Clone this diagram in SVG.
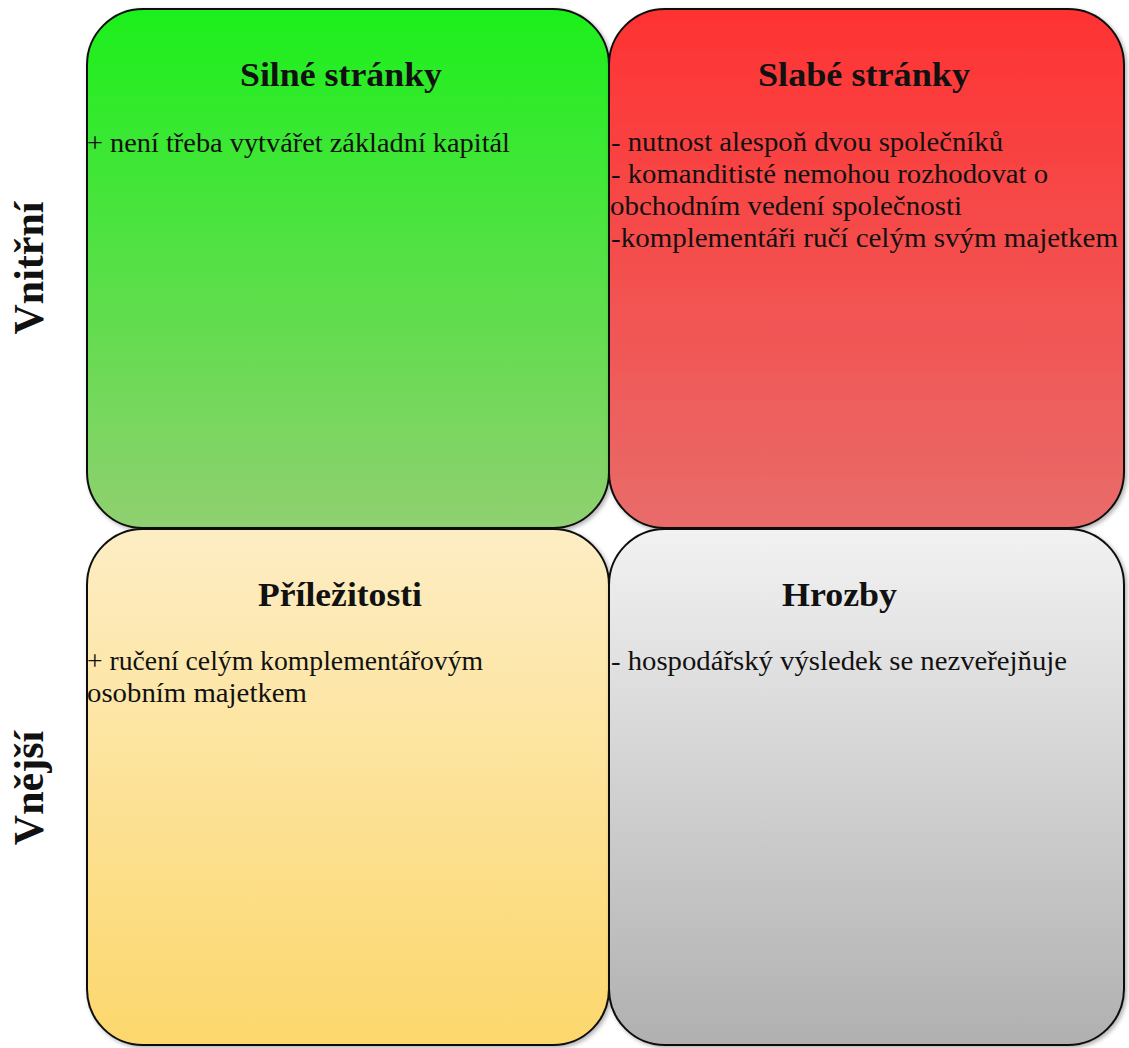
<svg xmlns="http://www.w3.org/2000/svg" width="1129" height="1048" viewBox="0 0 1129 1048">
<defs>
<linearGradient id="gG" x1="0" y1="0" x2="0" y2="1"><stop offset="0" stop-color="#1cf01c"/><stop offset="1" stop-color="#90d070"/></linearGradient>
<linearGradient id="gR" x1="0" y1="0" x2="0" y2="1"><stop offset="0" stop-color="#ff3232"/><stop offset="1" stop-color="#e86c6a"/></linearGradient>
<linearGradient id="gY" x1="0" y1="0" x2="0" y2="1"><stop offset="0" stop-color="#fdedc4"/><stop offset="1" stop-color="#fcd76c"/></linearGradient>
<linearGradient id="gS" x1="0" y1="0" x2="0" y2="1"><stop offset="0" stop-color="#f2f2f2"/><stop offset="1" stop-color="#b0b0b0"/></linearGradient>
<filter id="sh" x="-5%" y="-5%" width="110%" height="110%"><feDropShadow dx="2" dy="2" stdDeviation="2" flood-color="#000" flood-opacity="0.3"/></filter>
</defs>
<style>
.box{stroke:#111;stroke-width:2;filter:url(#sh)}
.t{font-family:"Liberation Serif",serif;font-weight:bold;font-size:33px;fill:#111}
.b{font-family:"Liberation Serif",serif;font-size:27px;fill:#111}
.v{font-family:"Liberation Serif",serif;font-weight:bold;font-size:42px;text-anchor:middle;fill:#111}
</style>
<rect width="1129" height="1048" fill="#fff"/>
<g id="labels">
<text class="v" transform="translate(43,268) rotate(-90)">Vnitřní</text>
<text class="v" transform="translate(43,788) rotate(-90)">Vnější</text>
</g>
<g id="silne">
<rect class="box" x="87" y="9" width="522" height="519" rx="56" fill="url(#gG)"/>
<text class="t" x="240" y="86" textLength="202" lengthAdjust="spacingAndGlyphs">Silné stránky</text>
<text class="b" x="87" y="152" textLength="423" lengthAdjust="spacingAndGlyphs">+ není třeba vytvářet základní kapitál</text>
</g>
<g id="slabe">
<rect class="box" x="609" y="9" width="515" height="519" rx="56" fill="url(#gR)"/>
<text class="t" x="758" y="86" textLength="212" lengthAdjust="spacingAndGlyphs">Slabé stránky</text>
<text class="b" x="611" y="151" textLength="392" lengthAdjust="spacingAndGlyphs">- nutnost alespoň dvou společníků</text>
<text class="b" x="611" y="183" textLength="437" lengthAdjust="spacingAndGlyphs">- komanditisté nemohou rozhodovat o</text>
<text class="b" x="610" y="215" textLength="352" lengthAdjust="spacingAndGlyphs">obchodním vedení společnosti</text>
<text class="b" x="611" y="247" textLength="507" lengthAdjust="spacingAndGlyphs">-komplementáři ručí celým svým majetkem</text>
</g>
<g id="prilezitosti">
<rect class="box" x="87" y="529" width="522" height="516" rx="56" fill="url(#gY)"/>
<text class="t" x="258" y="606" textLength="164" lengthAdjust="spacingAndGlyphs">Příležitosti</text>
<text class="b" x="87" y="670" textLength="396" lengthAdjust="spacingAndGlyphs">+ ručení celým komplementářovým</text>
<text class="b" x="87" y="702" textLength="220" lengthAdjust="spacingAndGlyphs">osobním majetkem</text>
</g>
<g id="hrozby">
<rect class="box" x="609" y="529" width="515" height="516" rx="56" fill="url(#gS)"/>
<text class="t" x="782" y="606" textLength="115" lengthAdjust="spacingAndGlyphs">Hrozby</text>
<text class="b" x="611" y="670" textLength="456" lengthAdjust="spacingAndGlyphs">- hospodářský výsledek se nezveřejňuje</text>
</g>
<g id="connectors"/>
</svg>
